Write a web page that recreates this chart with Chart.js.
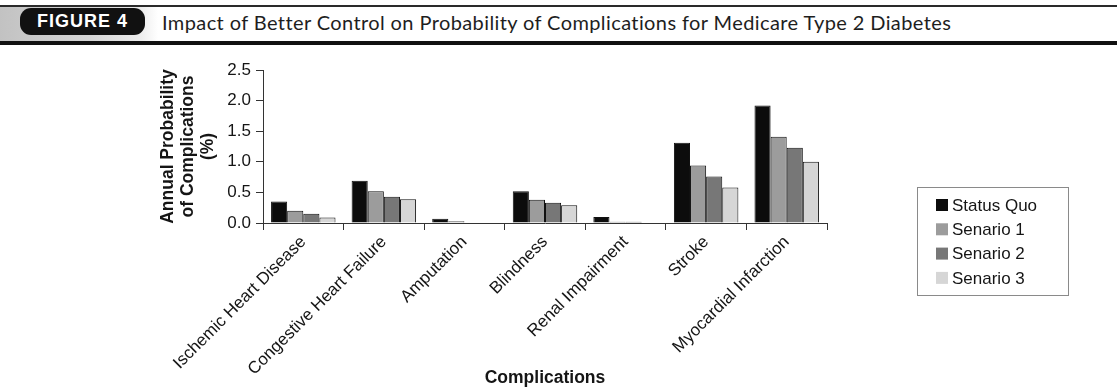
<!DOCTYPE html>
<html>
<head>
<meta charset="utf-8">
<script src="https://cdn.jsdelivr.net/npm/chart.js@4"></script>
<style>
  html, body { margin: 0; padding: 0; background: #fff; }
  body { width: 1117px; height: 392px; position: relative; overflow: hidden; }
  #hdr { position: absolute; left: 0; top: 0; width: 1117px; height: 48px; }
  #hdr .topline { position: absolute; left: 0; top: 5px; width: 1117px; height: 2px; background: #2a2a2a; }
  #hdr .shade { position: absolute; left: 0; top: 7px; width: 160px; height: 34px;
    background: linear-gradient(to right, #c2c2c2 0px, #d6d6d6 90px, #ececec 140px, #fff 158px); }
  #hdr .badge { position: absolute; left: 20px; top: 8px; width: 125px; height: 27px; border-radius: 11px;
    background: #111; color: #fff; font: bold 18px "Liberation Sans", Arial, sans-serif; letter-spacing: 1px;
    line-height: 27px; text-align: center; }
  #hdr .ttl { position: absolute; left: 162px; top: 10px; white-space: nowrap; color: #1e1e1e;
    font: 20px Lato, "Open Sans", sans-serif; letter-spacing: 0.4px; line-height: 24px; }
  #hdr .botline { position: absolute; left: 0; top: 41px; width: 1117px; height: 4px; background: #111; }
  #c { position: absolute; left: 0; top: 0; }
</style>
</head>
<body>
<div id="hdr">
  <div class="topline"></div>
  <div class="shade"></div>
  <div class="badge">FIGURE 4</div>
  <div class="ttl">Impact of Better Control on Probability of Complications for Medicare Type 2 Diabetes</div>
  <div class="botline"></div>
</div>
<canvas id="c" width="1117" height="392"></canvas>
<script>
// Complication categories and annual probabilities (%) per scenario
const categories = ['Ischemic Heart Disease', 'Congestive Heart Failure', 'Amputation', 'Blindness',
  'Renal Impairment', 'Stroke', 'Myocardial Infarction'];
const statusQuo = [0.35, 0.69, 0.07, 0.52, 0.10, 1.31, 1.92];
const senario1  = [0.20, 0.52, 0.03, 0.38, 0.02, 0.94, 1.41];
const senario2  = [0.15, 0.43, 0.00, 0.33, 0.02, 0.76, 1.23];
const senario3  = [0.09, 0.39, 0.00, 0.29, 0.00, 0.58, 1.00];
const seriesNames = ['Status Quo', 'Senario 1', 'Senario 2', 'Senario 3'];
const yTicks = [0, 0.5, 1.0, 1.5, 2.0, 2.5];

const FONT = '"Liberation Sans", Arial, sans-serif';
const fills = ['#0c0c0c', '#9c9c9c', '#777777', '#d6d6d6'];

// Boxed legend drawn beside the plot
const boxedLegend = {
  id: 'boxedLegend',
  afterDraw(chart) {
    const ctx = chart.ctx;
    ctx.save();
    ctx.strokeStyle = '#8a8a8a';
    ctx.lineWidth = 1;
    ctx.strokeRect(917.5, 187.5, 151, 108);
    ctx.font = '17px ' + FONT;
    ctx.textBaseline = 'middle';
    ctx.textAlign = 'left';
    chart.data.datasets.forEach((ds, i) => {
      const cy = 205 + i * 24.3;
      ctx.fillStyle = ds.backgroundColor;
      ctx.fillRect(936, cy - 6, 12, 12);
      ctx.fillStyle = '#151515';
      ctx.fillText(ds.label, 952, cy + 1);
    });
    ctx.restore();
  }
};

const values = [statusQuo, senario1, senario2, senario3];
new Chart(document.getElementById('c'), {
  type: 'bar',
  data: {
    labels: categories,
    datasets: values.map((v, i) => ({
      label: seriesNames[i],
      data: v,
      backgroundColor: fills[i],
      borderColor: '#111',
      borderWidth: 1,
      categoryPercentage: 0.8,
      barPercentage: 1.0
    }))
  },
  options: {
    responsive: false,
    animation: false,
    layout: { padding: { left: 150, right: 290, top: 70, bottom: 0 } },
    plugins: { legend: { display: false }, tooltip: { enabled: false } },
    scales: {
      x: {
        grid: { offset: true, drawOnChartArea: false, tickLength: 7, color: '#333', lineWidth: 1 },
        border: { display: true, color: '#333', width: 1 },
        ticks: { minRotation: 45, maxRotation: 45, autoSkip: false, padding: 2, color: '#151515',
          font: { family: FONT, size: 17 } },
        title: { display: true, text: 'Complications', color: '#151515',
          font: { family: FONT, size: 17.5, weight: 'bold', lineHeight: 1.2 }, padding: { top: 0, bottom: 3 } },
        afterFit(s) { s.height = 169; }
      },
      y: {
        min: 0, max: 2.5,
        afterBuildTicks(s) { s.ticks = yTicks.map(v => ({ value: v })); },
        grid: { drawOnChartArea: false, tickLength: 7, color: '#333', lineWidth: 1 },
        border: { display: true, color: '#333', width: 1 },
        ticks: { padding: 5, color: '#151515', font: { family: FONT, size: 17 },
          callback: v => Number(v).toFixed(1) },
        title: { display: true, text: ['Annual Probability', 'of Complications', '(%)'], color: '#151515',
          font: { family: FONT, size: 17.5, weight: 'bold', lineHeight: '20px' }, padding: { top: 8, bottom: 0 } },
        afterFit(s) { s.width = 113; }
      }
    }
  },
  plugins: [boxedLegend]
});
</script>
</body>
</html>
